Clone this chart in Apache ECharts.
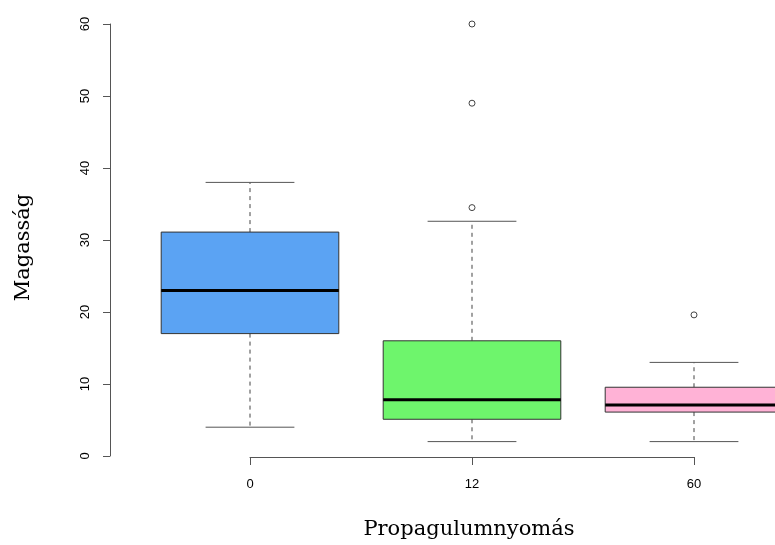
<!DOCTYPE html>
<html>
<head>
<meta charset="utf-8">
<script src="https://cdn.jsdelivr.net/npm/echarts@6/dist/echarts.min.js"></script>
<style>html,body{margin:0;padding:0;background:#fff;}#c{width:775px;height:545px;}</style>
</head>
<body>
<div id="c"></div>
<script>
var categories = ['0', '12', '60'];
var lowerWhisker = [4, 2, 2];
var q1 = [17, 5.1, 6.1];
var medians = [23, 7.8, 7.1];
var q3 = [31.1, 16, 9.55];
var upperWhisker = [38, 32.6, 13];
var outliers = [[1, 34.5], [1, 49], [1, 60], [2, 19.6]];
var boxColors = ['#5BA3F3', '#6EF56C', '#FFB2D6'];
var yTicks = [0, 10, 20, 30, 40, 50, 60];

var boxData = categories.map(function (c, i) {
  return [i, lowerWhisker[i], q1[i], medians[i], q3[i], upperWhisker[i]];
});

var chart = echarts.init(document.getElementById('c'), null, {renderer: 'canvas'});
var axisCol = '#555';
chart.setOption({
  animation: false,
  backgroundColor: '#fff',
  grid: [
    {left: 139, width: 666, top: 24, bottom: 89, outerBoundsMode: 'none', containLabel: false},
    {left: 250, width: 444, top: 24, bottom: 88, outerBoundsMode: 'none', containLabel: false}
  ],
  xAxis: [
    {type: 'category', gridIndex: 0, data: categories, boundaryGap: true, show: false},
    {type: 'category', gridIndex: 1, data: categories, boundaryGap: false,
     axisLine: {show: true, lineStyle: {color: axisCol, width: 1}},
     axisTick: {show: true, length: 8, alignWithLabel: true, lineStyle: {color: axisCol}},
     axisLabel: {color: '#000', fontSize: 13, fontFamily: 'Liberation Sans', margin: 21},
     splitLine: {show: false},
     name: 'Propagulumnyomás', nameLocation: 'middle', nameGap: 62,
     nameTextStyle: {fontFamily: 'DejaVu Serif', fontSize: 21, color: '#000', padding: [0, 6, 0, 0]}}
  ],
  yAxis: [
    {type: 'value', gridIndex: 0, min: yTicks[0], max: yTicks[yTicks.length - 1], interval: 10, offset: 29,
     axisLine: {show: true, lineStyle: {color: axisCol, width: 1}},
     axisTick: {show: true, length: 7, lineStyle: {color: axisCol}},
     axisLabel: {color: '#000', fontSize: 13, fontFamily: 'Liberation Sans', rotate: 90, margin: 18},
     splitLine: {show: false},
     name: 'Magasság', nameLocation: 'middle', nameGap: 76, nameRotate: 90,
     nameTextStyle: {fontFamily: 'DejaVu Serif', fontSize: 21, color: '#000', padding: [0, 15, 0, 0]}},
    {type: 'value', gridIndex: 1, min: 0, max: 60, show: false}
  ],
  series: [
    {
      type: 'custom',
      xAxisIndex: 0, yAxisIndex: 0,
      clip: false,
      data: boxData,
      encode: {x: 0, y: [1, 2, 3, 4, 5]},
      renderItem: function (params, api) {
        var idx = api.value(0);
        var band = api.size([1, 0])[0];
        var bw = band * 0.8;
        var pLow = api.coord([idx, api.value(1)]);
        var pQ1 = api.coord([idx, api.value(2)]);
        var pMed = api.coord([idx, api.value(3)]);
        var pQ3 = api.coord([idx, api.value(4)]);
        var pHigh = api.coord([idx, api.value(5)]);
        var cx = pMed[0];
        var dashStyle = {stroke: '#444', lineWidth: 1, lineDash: [4, 4]};
        var solid = {stroke: '#555', lineWidth: 1};
        return {
          type: 'group',
          children: [
            {type: 'line', shape: {x1: cx, y1: pQ3[1], x2: cx, y2: pHigh[1]}, style: dashStyle},
            {type: 'line', shape: {x1: cx, y1: pQ1[1], x2: cx, y2: pLow[1]}, style: dashStyle},
            {type: 'line', shape: {x1: cx - bw / 4, y1: pHigh[1], x2: cx + bw / 4, y2: pHigh[1]}, style: solid},
            {type: 'line', shape: {x1: cx - bw / 4, y1: pLow[1], x2: cx + bw / 4, y2: pLow[1]}, style: solid},
            {type: 'rect', shape: {x: cx - bw / 2, y: pQ3[1], width: bw, height: pQ1[1] - pQ3[1]},
             style: {fill: boxColors[idx], stroke: '#333', lineWidth: 1}},
            {type: 'line', shape: {x1: cx - bw / 2, y1: pMed[1], x2: cx + bw / 2, y2: pMed[1]},
             style: {stroke: '#000', lineWidth: 3}}
          ]
        };
      }
    },
    {
      type: 'scatter',
      xAxisIndex: 0, yAxisIndex: 0,
      data: outliers,
      symbol: 'circle',
      symbolSize: 6,
      clip: false,
      z: 5,
      itemStyle: {color: '#ffffff', borderColor: '#444444', borderWidth: 1, opacity: 1}
    }
  ]
});
</script>
</body>
</html>
